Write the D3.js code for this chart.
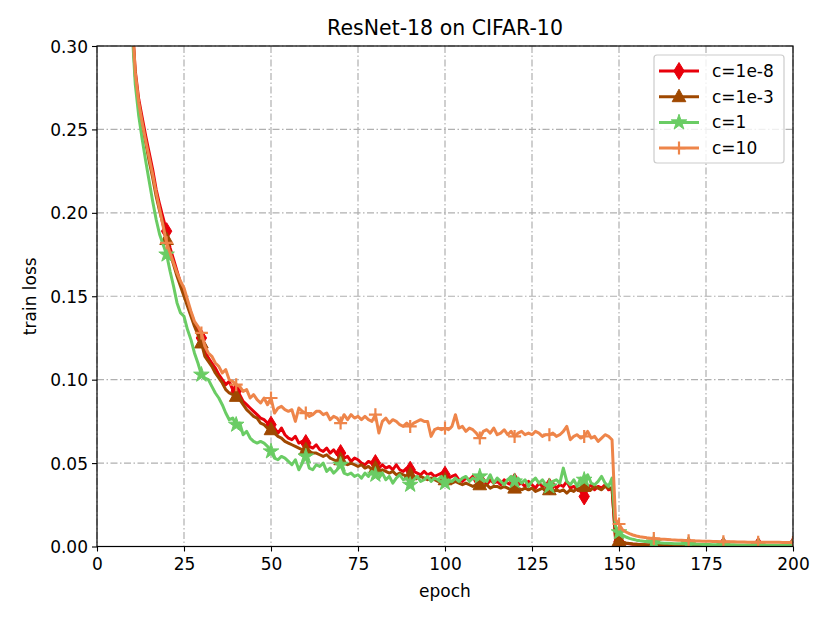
<!DOCTYPE html>
<html><head><meta charset="utf-8">
<script src="https://cdn.jsdelivr.net/npm/d3@7"></script>
<style>body{margin:0;background:#fff}svg{display:block}text{font-family:"DejaVu Sans",sans-serif;fill:#000}</style>
</head><body><div id="chart"></div>
<script>
// ---- data (train loss per epoch, index = epoch 0..200) ----
const seriesNames = ["c=1e-8", "c=1e-3", "c=1", "c=10"];
const xTicks = [0, 25, 50, 75, 100, 125, 150, 175, 200];
const yTicks = [0.00, 0.05, 0.10, 0.15, 0.20, 0.25, 0.30];

const lossC1e8 = [
1.50,0.95,0.72,0.60,0.52,0.46,0.42,0.39,0.365,0.342,
0.318,0.285,0.268,0.257,0.246,0.236,0.226,0.214,0.205,0.197,
0.189,0.179,0.172,0.165,0.158,0.152,0.146,0.140,0.134,0.130,
0.125,0.117,0.113,0.110,0.107,0.103,0.100,0.097,0.099,0.094,
0.093,0.091,0.087,0.085,0.083,0.081,0.079,0.077,0.076,0.074,
0.073,0.071,0.068,0.071,0.067,0.065,0.064,0.066,0.062,0.063,
0.062,0.060,0.059,0.061,0.058,0.057,0.059,0.056,0.058,0.055,
0.056,0.053,0.054,0.051,0.053,0.052,0.050,0.049,0.051,0.050,
0.050,0.047,0.049,0.047,0.048,0.046,0.049,0.046,0.045,0.047,
0.046,0.045,0.044,0.043,0.045,0.043,0.044,0.042,0.043,0.044,
0.043,0.041,0.042,0.043,0.040,0.039,0.041,0.040,0.042,0.038,
0.040,0.039,0.037,0.040,0.038,0.039,0.037,0.040,0.038,0.037,
0.039,0.037,0.038,0.036,0.039,0.037,0.035,0.038,0.036,0.037,
0.036,0.038,0.035,0.037,0.036,0.039,0.035,0.036,0.034,0.033,
0.030,0.035,0.037,0.034,0.036,0.035,0.037,0.034,0.035,
0.004,0.003,0.0023,0.0019,0.0016,0.0014,0.0013,0.0012,0.0011,0.0011,0.0010,0.0010,
0.0009,0.0009,0.0009,0.0008,0.0008,0.0008,0.0008,0.0007,0.0007,0.0007,
0.0007,0.0007,0.0006,0.0006,0.0006,0.0006,0.0006,0.0006,0.0006,0.0006,
0.0005,0.0005,0.0005,0.0005,0.0005,0.0005,0.0005,0.0005,0.0005,0.0005,
0.0005,0.0005,0.0005,0.0005,0.0005,0.0005,0.0005,0.0005,0.0005,0.0005];

const lossC1e3 = [
1.48,0.94,0.71,0.59,0.51,0.455,0.415,0.385,0.36,0.338,
0.315,0.282,0.265,0.253,0.242,0.231,0.221,0.210,0.201,0.193,
0.184,0.176,0.169,0.162,0.156,0.150,0.144,0.138,0.132,0.127,
0.122,0.114,0.111,0.108,0.104,0.101,0.098,0.094,0.092,0.091,
0.090,0.088,0.085,0.082,0.080,0.078,0.077,0.074,0.073,0.071,
0.070,0.068,0.066,0.065,0.063,0.062,0.061,0.060,0.059,0.058,
0.058,0.057,0.056,0.056,0.055,0.054,0.055,0.053,0.052,0.051,
0.052,0.050,0.049,0.050,0.049,0.048,0.049,0.047,0.048,0.046,
0.047,0.045,0.046,0.045,0.044,0.045,0.043,0.044,0.043,0.042,
0.043,0.042,0.041,0.042,0.041,0.040,0.041,0.040,0.039,0.040,
0.040,0.039,0.038,0.039,0.038,0.037,0.038,0.037,0.036,0.037,
0.037,0.036,0.037,0.035,0.036,0.036,0.035,0.036,0.035,0.034,
0.035,0.035,0.034,0.035,0.034,0.035,0.033,0.034,0.035,0.033,
0.034,0.033,0.034,0.033,0.034,0.032,0.034,0.033,0.035,0.034,
0.036,0.035,0.034,0.036,0.035,0.034,0.036,0.035,0.035,
0.006,0.0035,0.0026,0.0021,0.0018,0.0015,0.0013,0.0011,0.0010,0.0009,0.0008,0.0007,
0.0007,0.0006,0.0006,0.0006,0.0005,0.0005,0.0005,0.0005,0.0005,0.0005,
0.0004,0.0004,0.0004,0.0004,0.0004,0.0004,0.0004,0.0004,0.0004,0.0004,
0.0004,0.0004,0.0004,0.0004,0.0004,0.0004,0.0004,0.0004,0.0004,0.0004,
0.0004,0.0004,0.0004,0.0004,0.0004,0.0004,0.0004,0.0004,0.0004,0.0004];

const lossC1 = [
1.45,0.92,0.70,0.58,0.50,0.445,0.41,0.38,0.355,0.334,
0.313,0.277,0.258,0.244,0.231,0.219,0.207,0.196,0.187,0.181,
0.175,0.165,0.156,0.146,0.140,0.138,0.130,0.124,0.116,0.110,
0.103,0.101,0.100,0.096,0.092,0.089,0.085,0.080,0.076,0.077,
0.073,0.074,0.067,0.069,0.065,0.063,0.062,0.063,0.062,0.060,
0.057,0.053,0.052,0.054,0.053,0.051,0.049,0.052,0.046,0.050,
0.054,0.047,0.046,0.049,0.048,0.050,0.045,0.047,0.044,0.046,
0.049,0.044,0.043,0.044,0.042,0.043,0.041,0.044,0.042,0.045,
0.043,0.041,0.044,0.040,0.042,0.038,0.041,0.043,0.040,0.041,
0.037,0.040,0.042,0.039,0.040,0.042,0.039,0.041,0.040,0.042,
0.038,0.040,0.039,0.041,0.039,0.041,0.042,0.039,0.041,0.040,
0.042,0.040,0.039,0.043,0.038,0.041,0.039,0.037,0.040,0.042,
0.039,0.041,0.038,0.040,0.036,0.039,0.041,0.038,0.040,0.037,
0.036,0.039,0.040,0.038,0.047,0.039,0.037,0.040,0.036,0.041,
0.040,0.043,0.038,0.037,0.039,0.042,0.038,0.036,0.041,
0.012,0.0085,0.0068,0.0057,0.0049,0.0043,0.0038,0.0034,0.0031,0.0028,0.0026,0.0024,
0.0022,0.0021,0.0020,0.0019,0.0018,0.0017,0.0016,0.0016,0.0015,0.0014,
0.0014,0.0013,0.0013,0.0012,0.0012,0.0012,0.0011,0.0011,0.0011,0.0010,
0.0010,0.0010,0.0010,0.0009,0.0009,0.0009,0.0009,0.0009,0.0008,0.0008,
0.0008,0.0008,0.0008,0.0008,0.0008,0.0008,0.0008,0.0008,0.0008,0.0008];

const lossC10 = [
1.52,0.96,0.73,0.61,0.525,0.465,0.425,0.392,0.366,0.343,
0.319,0.284,0.266,0.254,0.243,0.233,0.223,0.212,0.202,0.192,
0.182,0.176,0.170,0.164,0.159,0.155,0.148,0.141,0.135,0.132,
0.128,0.120,0.116,0.114,0.110,0.108,0.104,0.106,0.100,0.099,
0.097,0.096,0.093,0.094,0.089,0.091,0.088,0.086,0.089,0.085,
0.089,0.080,0.083,0.084,0.082,0.081,0.082,0.075,0.083,0.081,
0.080,0.078,0.079,0.081,0.081,0.079,0.080,0.076,0.078,0.077,
0.074,0.079,0.076,0.079,0.077,0.078,0.076,0.078,0.076,0.075,
0.079,0.068,0.075,0.077,0.074,0.076,0.075,0.073,0.072,0.074,
0.072,0.074,0.075,0.076,0.075,0.075,0.066,0.070,0.071,0.070,
0.071,0.070,0.072,0.079,0.071,0.072,0.069,0.071,0.070,0.068,
0.065,0.069,0.070,0.068,0.071,0.067,0.068,0.070,0.067,0.069,
0.066,0.068,0.069,0.067,0.068,0.067,0.069,0.068,0.066,0.067,
0.067,0.068,0.066,0.067,0.069,0.072,0.064,0.066,0.067,0.065,
0.066,0.069,0.065,0.066,0.063,0.065,0.067,0.066,0.064,
0.016,0.0135,0.010,0.0087,0.0077,0.0069,0.0063,0.0058,0.0055,0.0052,0.0050,0.0048,
0.0046,0.0044,0.0043,0.0042,0.0040,0.0039,0.0038,0.0037,0.0036,0.0035,
0.0034,0.0033,0.0033,0.0032,0.0031,0.0031,0.0030,0.0030,0.0029,0.0029,
0.0028,0.0028,0.0028,0.0027,0.0027,0.0027,0.0026,0.0026,0.0026,0.0026,
0.0025,0.0025,0.0025,0.0025,0.0025,0.0025,0.0024,0.0024,0.0024,0.0024];

const seriesValues = [lossC1e8, lossC1e3, lossC1, lossC10];
const seriesColors = ["#e8000b", "#9f4800", "#6acc64", "#ee854a"];
const seriesMarkers = ["thindiamond", "triangle", "star", "plus"];
const markEvery = 10;

// ---- layout ----
const W = 830, H = 623;
const L = 97, R = 793, T = 46, B = 546.5;

const svg = d3.select("#chart").append("svg").attr("width", W).attr("height", H);
svg.append("rect").attr("width", W).attr("height", H).attr("fill", "#fff");

const x = d3.scaleLinear().domain([0, 200]).range([L, R]);
const y = d3.scaleLinear().domain([0, 0.30]).range([B, T]);

svg.append("defs").append("clipPath").attr("id", "clip")
  .append("rect").attr("x", L).attr("y", T).attr("width", R - L).attr("height", B - T);

// grid
const grid = svg.append("g").attr("stroke", "#b0b0b0").attr("stroke-width", 1.2)
  .attr("stroke-dasharray", "7,2.5,1.5,2.5");
grid.selectAll(".gx").data(xTicks).join("line")
  .attr("x1", d => x(d)).attr("x2", d => x(d)).attr("y1", T).attr("y2", B);
grid.selectAll(".gy").data(yTicks).join("line")
  .attr("y1", d => y(d)).attr("y2", d => y(d)).attr("x1", L).attr("x2", R);

function markerPath(type) {
  if (type === "thindiamond") return "M0,-8.5L5.2,0L0,8.5L-5.2,0Z";
  if (type === "triangle") return "M0,-7.5L6.8,5L-6.8,5Z";
  if (type === "star") return d3.symbol(d3.symbolStar, 75)();
  return "M-6.5,0H6.5M0,-6.5V6.5";
}
function drawMarker(g, type, color, cx, cy) {
  const p = g.append("path").attr("d", markerPath(type))
    .attr("transform", `translate(${cx},${cy})`);
  if (type === "plus") p.attr("fill", "none").attr("stroke", color).attr("stroke-width", 2.2);
  else p.attr("fill", color).attr("stroke", color).attr("stroke-width", 1);
}

const plot = svg.append("g").attr("clip-path", "url(#clip)");
const line = d3.line().x((d, i) => x(i)).y(d => y(d));

seriesValues.forEach((vals, k) => {
  const g = plot.append("g");
  g.append("path").datum(vals).attr("d", line)
    .attr("fill", "none").attr("stroke", seriesColors[k]).attr("stroke-width", 3)
    .attr("stroke-linejoin", "round").attr("stroke-linecap", "square");
  vals.forEach((v, i) => {
    if (i % markEvery === 0) drawMarker(g, seriesMarkers[k], seriesColors[k], x(i), y(v));
  });
});

// axes
const xAxis = d3.axisBottom(x).tickValues(xTicks).tickSize(5).tickPadding(4).tickFormat(d3.format("d"));
const yAxis = d3.axisLeft(y).tickValues(yTicks).tickSize(5).tickPadding(4).tickFormat(d3.format(".2f"));
const gx = svg.append("g").attr("transform", `translate(0,${B})`).call(xAxis);
const gy = svg.append("g").attr("transform", `translate(${L},0)`).call(yAxis);
[gx, gy].forEach(g => {
  g.select(".domain").remove();
  g.selectAll(".tick line").attr("stroke", "#000").attr("stroke-width", 1.1);
  g.selectAll(".tick text").attr("font-size", 17).attr("font-family", "DejaVu Sans");
});
gx.selectAll(".tick text").attr("dy", "0.85em");
gy.selectAll(".tick text").attr("dy", "0.36em");

// spines
svg.append("rect").attr("x", L).attr("y", T).attr("width", R - L).attr("height", B - T)
  .attr("fill", "none").attr("stroke", "#000").attr("stroke-width", 1.2);

// labels
svg.append("text").attr("x", (L + R) / 2).attr("y", 35).attr("text-anchor", "middle")
  .attr("font-size", 20.5).text("ResNet-18 on CIFAR-10");
svg.append("text").attr("x", (L + R) / 2).attr("y", 597).attr("text-anchor", "middle")
  .attr("font-size", 17).text("epoch");
svg.append("text").attr("transform", `translate(36,${(T + B) / 2}) rotate(-90)`)
  .attr("text-anchor", "middle").attr("font-size", 17).text("train loss");

// legend
const lg = svg.append("g");
lg.append("rect").attr("x", 654).attr("y", 55).attr("width", 130).attr("height", 108)
  .attr("rx", 3).attr("fill", "#fff").attr("fill-opacity", 0.8)
  .attr("stroke", "#cccccc").attr("stroke-width", 1.2);
seriesNames.forEach((name, k) => {
  const cy = 71 + k * 25.7;
  lg.append("line").attr("x1", 659).attr("x2", 699).attr("y1", cy).attr("y2", cy)
    .attr("stroke", seriesColors[k]).attr("stroke-width", 3);
  drawMarker(lg, seriesMarkers[k], seriesColors[k], 679, cy);
  lg.append("text").attr("x", 712).attr("y", cy + 6).attr("font-size", 17).text(name);
});
</script></body></html>
